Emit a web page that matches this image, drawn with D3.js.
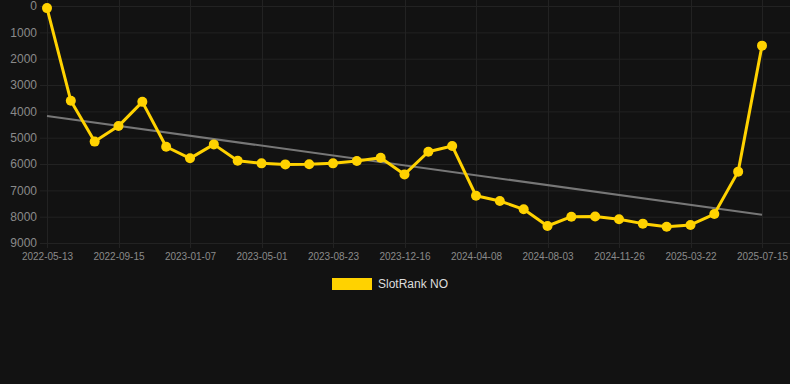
<!DOCTYPE html>
<html>
<head>
<meta charset="utf-8">
<script src="https://cdn.jsdelivr.net/npm/d3@7"></script>
<style>
  html, body { margin: 0; padding: 0; background: #121212; }
  svg { display: block; font-family: "Liberation Sans", Arial, sans-serif; }
</style>
</head>
<body>
<script>
// category dates (every 3rd one is labelled on the axis)
var dates = [
  "2022-05-13", "2022-06-24", "2022-08-05", "2022-09-15", "2022-10-23", "2022-11-30",
  "2023-01-07", "2023-02-15", "2023-03-24", "2023-05-01", "2023-06-08", "2023-07-16",
  "2023-08-23", "2023-09-30", "2023-11-08", "2023-12-16", "2024-01-23", "2024-03-01",
  "2024-04-08", "2024-05-17", "2024-06-25", "2024-08-03", "2024-09-10", "2024-10-18",
  "2024-11-26", "2025-01-03", "2025-02-11", "2025-03-22", "2025-04-29", "2025-06-06",
  "2025-07-15"
];
// SlotRank NO values (rank, lower is better)
var rankNO = [
  80, 3600, 5150, 4560, 3640, 5345,
  5785, 5255, 5875, 5975, 6015, 6010,
  5975, 5885, 5760, 6395, 5535, 5315,
  7205, 7405, 7720, 8355, 8000, 7995,
  8100, 8265, 8380, 8315, 7900, 6290,
  1505
];
var yTicks = [0, 1000, 2000, 3000, 4000, 5000, 6000, 7000, 8000, 9000];
var seriesName = "SlotRank NO";

var width = 790, height = 384;
var svg = d3.select("body").append("svg")
    .attr("width", width)
    .attr("height", height);

svg.append("rect").attr("width", width).attr("height", height).attr("fill", "#121212");

var x = d3.scalePoint()
    .domain(dates)
    .range([47, 762]);
var y = d3.scaleLinear()
    .domain([0, 9000])
    .range([6, 243]);

var labelDates = dates.filter(function (d, i) { return i % 3 === 0; });

// grid
var grid = svg.append("g");
grid.selectAll("line.h").data(yTicks).enter().append("line")
    .attr("x1", 40).attr("x2", width)
    .attr("y1", function (d) { return y(d) + 0.5; })
    .attr("y2", function (d) { return y(d) + 0.5; })
    .attr("stroke", "#222222").attr("stroke-width", 1);
grid.selectAll("line.v").data(labelDates).enter().append("line")
    .attr("x1", function (d) { return Math.round(x(d)) + 0.5; })
    .attr("x2", function (d) { return Math.round(x(d)) + 0.5; })
    .attr("y1", 0).attr("y2", 248)
    .attr("stroke", "#222222").attr("stroke-width", 1);

// y axis labels
var yAxis = d3.axisLeft(y).tickValues(yTicks).tickFormat(d3.format("d")).tickSize(0).tickPadding(0);
svg.append("g")
    .attr("transform", "translate(37,0)")
    .call(yAxis)
    .call(function (g) { g.select(".domain").remove(); })
    .selectAll("text")
    .attr("fill", "#8a8a8a")
    .style("font-size", "12px")
    .style("font-family", "\"Liberation Sans\", Arial, sans-serif");

// x axis labels
var xAxis = d3.axisBottom(x).tickValues(labelDates).tickSize(0).tickPadding(0);
svg.append("g")
    .attr("transform", "translate(0,253)")
    .call(xAxis)
    .call(function (g) { g.select(".domain").remove(); })
    .selectAll("text")
    .attr("fill", "#8a8a8a")
    .style("font-size", "10px")
    .style("font-family", "\"Liberation Sans\", Arial, sans-serif");

// linear trend (least squares over index)
var n = rankNO.length;
var mx = d3.mean(rankNO, function (d, i) { return i; });
var my = d3.mean(rankNO);
var sxy = d3.sum(rankNO, function (d, i) { return (i - mx) * (d - my); });
var sxx = d3.sum(rankNO, function (d, i) { return (i - mx) * (i - mx); });
var slope = sxy / sxx;
var icpt = my - slope * mx;
svg.append("line")
    .attr("x1", x(dates[0])).attr("y1", y(icpt))
    .attr("x2", x(dates[n - 1])).attr("y2", y(icpt + slope * (n - 1)))
    .attr("stroke", "#777777").attr("stroke-width", 2);

// series line
var line = d3.line()
    .x(function (d, i) { return x(dates[i]); })
    .y(function (d) { return y(d); });
svg.append("path")
    .datum(rankNO)
    .attr("d", line)
    .attr("fill", "none")
    .attr("stroke", "#ffd200")
    .attr("stroke-width", 3)
    .attr("stroke-linejoin", "round");

svg.append("g").selectAll("circle").data(rankNO).enter().append("circle")
    .attr("cx", function (d, i) { return x(dates[i]); })
    .attr("cy", function (d) { return y(d); })
    .attr("r", 5)
    .attr("fill", "#ffd200");

// legend
var legend = svg.append("g").attr("transform", "translate(332,278)");
legend.append("rect").attr("width", 40).attr("height", 12).attr("fill", "#ffd200");
legend.append("text")
    .attr("x", 46).attr("y", 6).attr("dy", "0.35em")
    .attr("fill", "#dddddd")
    .style("font-size", "12px")
    .text(seriesName);
</script>
</body>
</html>
